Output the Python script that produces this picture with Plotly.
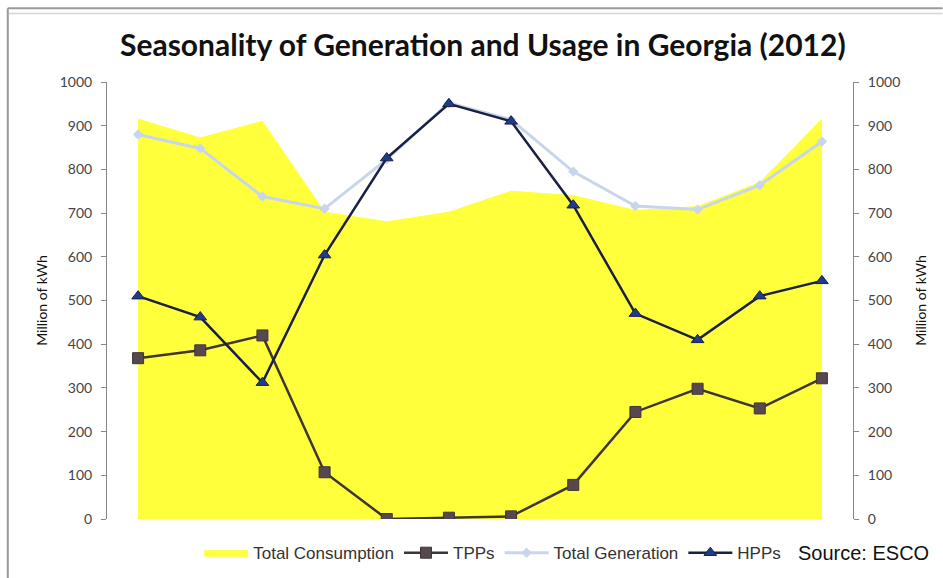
import plotly.graph_objects as go

months = ["Jan", "Feb", "Mar", "Apr", "May", "Jun", "Jul", "Aug", "Sep", "Oct", "Nov", "Dec"]
total_consumption = [915, 872, 910, 702, 680, 702, 750, 740, 706, 715, 770, 915]
tpps = [368, 386, 420, 107, 0, 3, 6, 78, 245, 298, 253, 322]
total_generation = [880, 848, 738, 710, 823, 952, 914, 795, 716, 708, 764, 864]
hpps = [510, 462, 312, 604, 826, 950, 910, 718, 470, 410, 510, 545]
y_ticks = list(range(0, 1001, 100))

fig = go.Figure()
fig.add_trace(go.Scatter(
    x=months, y=total_consumption, name="Total Consumption", mode="lines",
    fill="tozeroy", fillcolor="#FFFF3C", line=dict(color="#FFFF3C", width=1),
))
fig.add_trace(go.Scatter(
    x=months, y=tpps, name="TPPs", mode="lines+markers",
    line=dict(color="#3E3535", width=2.5),
    marker=dict(symbol="square", size=11, color="#574850", line=dict(color="#3E3535", width=1)),
))
fig.add_trace(go.Scatter(
    x=months, y=total_generation, name="Total Generation", mode="lines+markers",
    line=dict(color="#C8D6EC", width=3),
    marker=dict(symbol="diamond", size=8, color="#C8D6EC"),
))
fig.add_trace(go.Scatter(
    x=months, y=hpps, name="HPPs", mode="lines+markers", yaxis="y2",
    line=dict(color="#1A1F45", width=2.5),
    marker=dict(symbol="triangle-up", size=11, color="#1F3C8C", line=dict(color="#1A1F45", width=1)),
))

axis_common = dict(
    range=[0, 1000], tickvals=y_ticks, showgrid=False, zeroline=False,
    showline=True, linecolor="#888888", linewidth=1,
    ticks="outside", ticklen=5, tickcolor="#888888", ticklabelstandoff=6,
    tickfont=dict(family="Lato, Carlito, sans-serif", size=14, color="#444444"),
    fixedrange=True,
)
axis_title_font = dict(family="Lato, sans-serif", size=14, color="#111111")

fig.update_layout(
    width=943, height=578,
    margin=dict(l=107, r=90, t=82, b=59, autoexpand=False),
    paper_bgcolor="white", plot_bgcolor="white",
    title=dict(
        text="<b>Seasonality of Generation and Usage in Georgia (2012)</b>",
        x=0.512, xanchor="center", y=0.922, yanchor="middle",
        font=dict(family="Lato, sans-serif", size=30, color="#111111"),
    ),
    xaxis=dict(visible=False, range=[-0.5, 11.5], fixedrange=True),
    yaxis=dict(
        **axis_common,
        title=dict(text="Million of kWh", standoff=8, font=axis_title_font),
    ),
    yaxis2=dict(
        **axis_common,
        overlaying="y", side="right",
        title=dict(text="Million of kWh", standoff=16, font=axis_title_font),
    ),
    legend=dict(
        orientation="h", x=0.1236, xanchor="left",
        yref="container", y=0.043, yanchor="middle",
        font=dict(family="Liberation Sans, Arial, sans-serif", size=17, color="#333333"),
        bgcolor="rgba(0,0,0,0)", itemwidth=44,
    ),
    showlegend=True,
    annotations=[dict(
        text="Source: ESCO", xref="paper", yref="paper", x=1.105, y=-0.078,
        xanchor="right", yanchor="middle", showarrow=False,
        font=dict(family="Liberation Sans, Arial, sans-serif", size=20, color="#111111"),
    )],
)

# Frame lines around the chart image (styling)
fig.add_shape(type="line", xref="paper", yref="paper", x0=-0.133, x1=1.12, y0=1.169, y1=1.169,
              line=dict(color="#9a9a9a", width=2))
fig.add_shape(type="line", xref="paper", yref="paper", x0=-0.133, x1=1.12, y0=1.157, y1=1.157,
              line=dict(color="#d4d4d4", width=1.5))
fig.add_shape(type="line", xref="paper", yref="paper", x0=-0.133, x1=-0.133, y0=-0.2, y1=1.169,
              line=dict(color="#9a9a9a", width=2))

fig.write_html("out.html")
